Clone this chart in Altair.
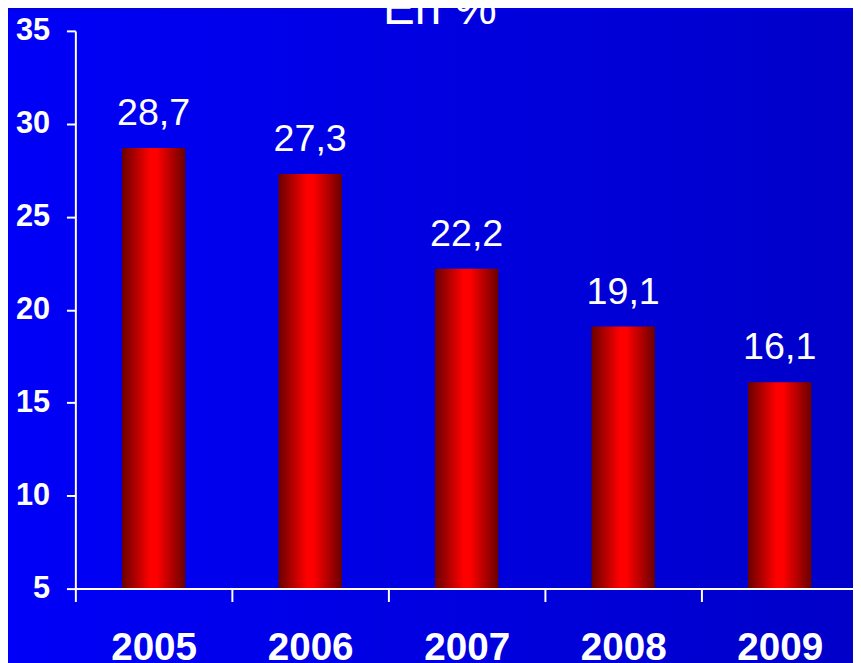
import altair as alt
import pandas as pd

years = ["2005", "2006", "2007", "2008", "2009"]
values = [28.7, 27.3, 22.2, 19.1, 16.1]
value_labels = ["28,7", "27,3", "22,2", "19,1", "16,1"]
y_ticks = [5, 10, 15, 20, 25, 30, 35]
title_text = ["En %"]

df = pd.DataFrame({"year": years, "value": values, "label": value_labels})

FONT = "Liberation Sans"
W, H = 790, 563
PAD = {"left": 68, "top": 20, "right": -5, "bottom": 72}

blue_grad = alt.LinearGradient(
    gradient="linear", x1=0, x2=1, y1=0, y2=0,
    stops=[alt.GradientStop(color="#0000F8", offset=0),
           alt.GradientStop(color="#0000C8", offset=1)],
)
red_grad = alt.LinearGradient(
    gradient="linear", x1=0, x2=1, y1=0, y2=0,
    stops=[alt.GradientStop(color="#6A0000", offset=0),
           alt.GradientStop(color="#FF0000", offset=0.45),
           alt.GradientStop(color="#FF0000", offset=0.55),
           alt.GradientStop(color="#6A0000", offset=1)],
)

bg = alt.Chart(pd.DataFrame({"a": [0]})).mark_rect(color=blue_grad).encode(
    x=alt.value(-PAD["left"]), x2=alt.value(W + 10),
    y=alt.value(-PAD["top"]), y2=alt.value(H + PAD["bottom"] + 10),
)

xscale = alt.Scale(paddingInner=0, paddingOuter=0)
yscale = alt.Scale(domain=[5, 35], zero=False, nice=False)

base = alt.Chart(df)

bars = base.mark_bar(width=64, color=red_grad).encode(
    x=alt.X("year:N", scale=xscale, sort=years,
            axis=alt.Axis(title=None, labelAngle=0, tickBand="extent", zindex=2,
                          domainColor="white", domainWidth=2,
                          tickColor="white", tickWidth=2, tickSize=13,
                          labelColor="white", labelFont=FONT, labelFontSize=39,
                          labelFontWeight="bold", labelPadding=28, grid=False)),
    y=alt.Y("value:Q", scale=yscale,
            axis=alt.Axis(title=None, values=y_ticks, format="d", zindex=2,
                          domainColor="white", domainWidth=2,
                          tickColor="white", tickWidth=2, tickSize=9,
                          labelColor="white", labelFont=FONT, labelFontSize=31,
                          labelFontWeight="bold", labelPadding=17, grid=False)),
    y2=alt.datum(5),
)

texts = base.mark_text(dy=-23, baseline="alphabetic", fontSize=38, color="white",
                       font=FONT).encode(
    x=alt.X("year:N", scale=xscale, sort=years),
    y=alt.Y("value:Q", scale=yscale),
    text="label:N",
)

title = alt.Chart(pd.DataFrame({"t": title_text})).mark_text(
    baseline="alphabetic", fontSize=48, color="white", font=FONT
).encode(x=alt.value(368), y=alt.value(-7), text="t:N")

chart = alt.layer(bg, bars, texts, title).properties(
    width=W, height=H, autosize="none", padding=PAD, background="#0000E0"
).configure_view(stroke=None)

chart.save("out.html", embed_options={"renderer": "svg", "actions": False})
